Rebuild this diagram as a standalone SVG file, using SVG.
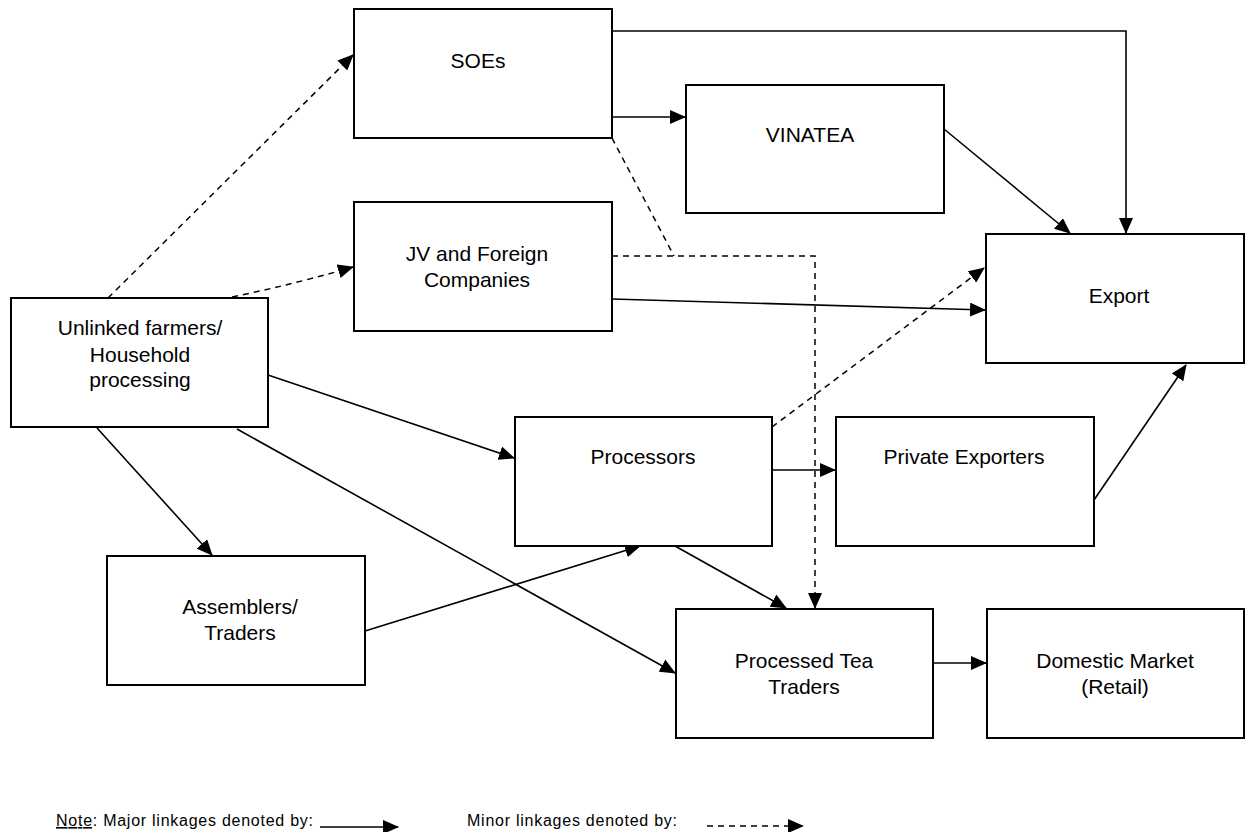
<svg xmlns="http://www.w3.org/2000/svg" width="1250" height="832" viewBox="0 0 1250 832">
<style>
.box{fill:#fff;stroke:#000;stroke-width:2}
.lbl{font-family:"Liberation Sans",Arial,sans-serif;font-size:21px;fill:#000;text-anchor:middle}
.leg{font-family:"Liberation Sans",Arial,sans-serif;font-size:16px;fill:#000}
.solid{fill:none;stroke:#000;stroke-width:1.6;marker-end:url(#ah)}
.dash{fill:none;stroke:#000;stroke-width:1.5;stroke-dasharray:6 5}
.dasha{marker-end:url(#ah)}
</style>
<defs>
<marker id="ah" markerUnits="userSpaceOnUse" markerWidth="16" markerHeight="14" refX="15" refY="7" orient="auto" viewBox="0 0 16 14">
<path d="M0,0 L16,7 L0,14 z" fill="#000"/>
</marker>
</defs>
<rect width="1250" height="832" fill="#fff"/>
<g id="connectors">
<path class="solid" d="M612,31 H1126 V233"/>
<path class="solid" d="M612,117 H685"/>
<path class="solid" d="M944,129 L1070,233"/>
<path class="solid" d="M612,299 L985,310"/>
<path class="solid" d="M268,375 L514,458"/>
<path class="solid" d="M97,428 L212,555"/>
<path class="solid" d="M237,429 L675,673"/>
<path class="solid" d="M365,631 L640,546"/>
<path class="solid" d="M675,546 L786,608"/>
<path class="solid" d="M772,470 L835,470"/>
<path class="solid" d="M1094,500 L1186,365"/>
<path class="solid" d="M933,663 L986,663"/>
<path class="dash dasha" d="M108,298 L353,55"/>
<path class="dash dasha" d="M232,297 Q295,284 353,267"/>
<path class="dash" d="M612,138 L674,256"/>
<path class="dash dasha" d="M612,256 H815 V608" stroke-dasharray="8 5"/>
<path class="dash dasha" d="M772,427 L984,268"/>
</g>
<g id="soes"><rect class="box" x="354" y="9" width="258" height="129"/><text class="lbl" x="478" y="68">SOEs</text></g>
<g id="vinatea"><rect class="box" x="686" y="85" width="258" height="128"/><text class="lbl" x="810" y="142">VINATEA</text></g>
<g id="jv"><rect class="box" x="354" y="202" width="258" height="129"/><text class="lbl" x="477" y="261">JV and Foreign</text><text class="lbl" x="477" y="287">Companies</text></g>
<g id="unlinked"><rect class="box" x="11" y="298" width="257" height="129"/><text class="lbl" x="140" y="335">Unlinked farmers/</text><text class="lbl" x="140" y="362">Household</text><text class="lbl" x="140" y="387">processing</text></g>
<g id="export"><rect class="box" x="986" y="234" width="258" height="129"/><text class="lbl" x="1119" y="303">Export</text></g>
<g id="processors"><rect class="box" x="515" y="417" width="257" height="129"/><text class="lbl" x="643" y="464">Processors</text></g>
<g id="private-exporters"><rect class="box" x="836" y="417" width="258" height="129"/><text class="lbl" x="964" y="464">Private Exporters</text></g>
<g id="assemblers"><rect class="box" x="107" y="556" width="258" height="129"/><text class="lbl" x="240" y="614">Assemblers/</text><text class="lbl" x="240" y="640">Traders</text></g>
<g id="processed-tea-traders"><rect class="box" x="676" y="609" width="257" height="129"/><text class="lbl" x="804" y="668">Processed Tea</text><text class="lbl" x="804" y="694">Traders</text></g>
<g id="domestic-market"><rect class="box" x="987" y="609" width="257" height="129"/><text class="lbl" x="1115" y="668">Domestic Market</text><text class="lbl" x="1115" y="694">(Retail)</text></g>
<g id="legend">
<text class="leg" x="56" y="826" textLength="257" lengthAdjust="spacing"><tspan text-decoration="underline">Note</tspan>: Major linkages denoted by:</text>
<path class="solid" d="M320,827 H398"/>
<text class="leg" x="467" y="826" textLength="210" lengthAdjust="spacing">Minor linkages denoted by:</text>
<path class="dash dasha" d="M707,826 H803"/>
</g>
</svg>
